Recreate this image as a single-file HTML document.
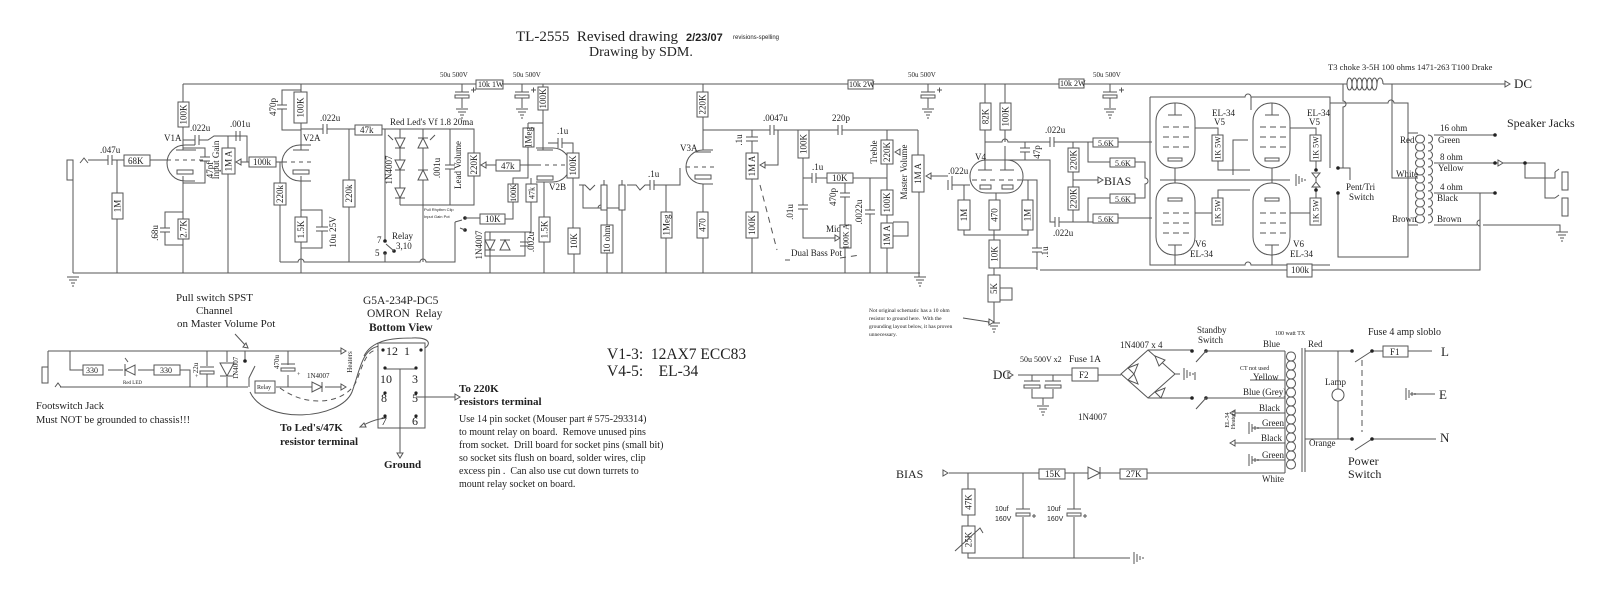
<!DOCTYPE html>
<html><head><meta charset="utf-8"><style>
html,body{margin:0;padding:0;background:#fff;}
svg{display:block;}
.w{fill:none;stroke:#555;stroke-width:1;}
.r{fill:#fff;stroke:#555;stroke-width:1;}
.d{fill:none;stroke:#555;stroke-width:1;stroke-dasharray:6 5;}
text{font-family:"Liberation Serif",serif;fill:#222;white-space:pre;}
.t{font-size:9px;}
.s{font-size:6px;}
.sn{font-family:"Liberation Sans",sans-serif;font-size:5px;}
.dot{fill:#222;stroke:none;}
</style></head><body>
<svg width="1598" height="594" viewBox="0 0 1598 594" xmlns="http://www.w3.org/2000/svg">
<defs>
<g id="g"><path class="w" d="M-6 0h12M-4 3h8M-2 6h4M-1 9h2"/></g>
<g id="ec"><path class="w" d="M-7 0h14"/><rect class="r" x="-7" y="3" width="14" height="3"/><path class="w" d="M9 -2h5M11.5 -4.5v5"/></g>
<g id="ch"><path class="w" d="M0 -5v10M4 -5v10"/></g>
<g id="cv"><path class="w" d="M-5 0h10M-5 4h10"/></g>
<g id="ar"><path d="M0 0l-5 -3v6z" fill="#fff" stroke="#555"/></g>
</defs>

<!-- TITLE -->
<text x="516" y="41" style="font-size:15px" xml:space="preserve">TL-2555  Revised drawing</text>
<text x="686" y="41" style="font-family:'Liberation Sans',sans-serif;font-size:11px;font-weight:bold">2/23/07</text>
<text x="733" y="39" class="sn" style="font-size:6px">revisions-spelling</text>
<text x="589" y="56" style="font-size:14px">Drawing by SDM.</text>

<!-- RAILS -->
<path class="w" d="M183 84H1347M1383 84H1505"/>
<use href="#ar" transform="translate(1510,84)"/>
<text x="1514" y="88" style="font-size:13px">DC</text>
<path class="w" d="M73 273H920"/>
<use href="#g" transform="translate(73,277)"/>
<use href="#g" transform="translate(920,277)"/>
<path class="w" d="M919 192V277"/>

<!-- B+ caps -->
<text x="440" y="77" class="s" style="font-size:7px">50u 500V</text>
<path class="w" d="M462 84V92M462 98V108"/><use href="#ec" transform="translate(462,92)"/><use href="#g" transform="translate(462,109)"/>
<rect class="r" x="476" y="80" width="27" height="9"/><text x="478" y="87" class="t" style="font-size:8px">10k 1W</text>
<text x="513" y="77" class="s" style="font-size:7px">50u 500V</text>
<path class="w" d="M522 84V92M522 98V108"/><use href="#ec" transform="translate(522,92)"/><use href="#g" transform="translate(522,109)"/>
<rect class="r" x="848" y="80" width="25" height="9"/><text x="849" y="87" class="t" style="font-size:8px">10k 2W</text>
<text x="908" y="77" class="s" style="font-size:7px">50u 500V</text>
<path class="w" d="M928 84V92M928 98V108"/><use href="#ec" transform="translate(928,92)"/><use href="#g" transform="translate(928,109)"/>
<rect class="r" x="1059" y="79" width="25" height="9"/><text x="1060" y="86" class="t" style="font-size:8px">10k 2W</text>
<text x="1093" y="77" class="s" style="font-size:7px">50u 500V</text>
<path class="w" d="M1110 84V92M1110 98V108"/><use href="#ec" transform="translate(1110,92)"/><use href="#g" transform="translate(1110,109)"/>

<!-- ===== V1A ===== -->
<rect class="r" x="67" y="160" width="6" height="20"/>
<path class="w" d="M73 180V273M80 163L84 158L88 163M88 160H108M112 160H124M117 160V193M117 219V273M150 160H168"/>
<use href="#ch" transform="translate(108,160)"/>
<text x="100" y="153" class="t">.047u</text>
<rect class="r" x="124" y="155" width="26" height="11"/><text x="128" y="164" class="t">68K</text>
<rect class="r" x="112" y="193" width="11" height="26"/><text transform="translate(117.5,206) rotate(-90)" text-anchor="middle" dy="3" class="t">1M</text>
<path class="w" d="M195 145H185A18 18 0 0 0 185 181H195M183 84V102M183 127V150M176 150H196M167 160H171M175 160H179M183 160H187M191 160H195M199 160H203"/>
<rect class="r" x="177" y="170" width="16" height="4"/>
<text x="164" y="141" class="t">V1A</text>
<rect class="r" x="178" y="102" width="11" height="25"/><text transform="translate(183.5,114.5) rotate(-90)" text-anchor="middle" dy="3" class="t">100K</text>
<path class="w" d="M183 140H195M199 140H208L214 136H247V162M238 162H249M228 136V148M228 174V273M183 148H205V157M205 161V183H183"/>
<use href="#ch" transform="translate(195,140)"/>
<text x="190" y="131" class="t">.022u</text>
<use href="#ch" transform="translate(236,136)"/>
<text x="230" y="127" class="t">.001u</text>
<path class="w" d="M200 157h10M200 161h10"/>
<text transform="translate(213,170) rotate(-90)" text-anchor="middle" class="t">47pf</text>
<rect class="r" x="222" y="148" width="13" height="26"/><text transform="translate(228.5,161) rotate(-90)" text-anchor="middle" dy="3" class="t">1M A</text>
<text transform="translate(219,160) rotate(-90)" text-anchor="middle" class="t">Input Gain</text>
<path d="M236 162l5 -3v6z" fill="#fff" stroke="#555"/>
<path class="w" d="M183 176V219M183 239V273M183 212H165V228M165 232V245H183"/>
<path class="w" d="M160 228h10M160 232h10"/>
<text transform="translate(158,233) rotate(-90)" text-anchor="middle" class="t">.68u</text>
<rect class="r" x="178" y="219" width="11" height="20"/><text transform="translate(183.5,229) rotate(-90)" text-anchor="middle" dy="3" class="t">2.7K</text>

<!-- ===== V2A ===== -->
<rect class="r" x="249" y="157" width="27" height="10"/><text x="253" y="165" class="t">100k</text>
<path class="w" d="M276 162H284M280 162V183M280 205V262"/>
<rect class="r" x="274" y="183" width="12" height="22"/><text transform="translate(280,194) rotate(-90)" text-anchor="middle" dy="3" class="t">220k</text>
<path class="w" d="M311 145H300A18 18 0 0 0 300 181H311M301 84V92M301 123V150M293 150H309M283 162H287M291 162H295M299 162H303M307 162H311"/>
<rect class="r" x="293" y="170" width="16" height="4"/>
<text x="303" y="141" class="t">V2A</text>
<rect class="r" x="294" y="92" width="13" height="31"/><text transform="translate(300.5,107.5) rotate(-90)" text-anchor="middle" dy="3" class="t">100K</text>
<path class="w" d="M301 90H282V105M282 109V130H301M277 105h10M277 109h10"/>
<text transform="translate(276,107) rotate(-90)" text-anchor="middle" class="t">470p</text>
<path class="w" d="M301 129H323M327 129H355M349 129V180M349 207V262"/>
<use href="#ch" transform="translate(323,129)"/>
<text x="320" y="121" class="t">.022u</text>
<rect class="r" x="343" y="180" width="12" height="27"/><text transform="translate(349,193.5) rotate(-90)" text-anchor="middle" dy="3" class="t">220k</text>
<path class="w" d="M301 176V217M301 242V273M301 210H322V227M322 231V248H301M316 227h12M316 231h12"/>
<rect class="r" x="295" y="217" width="12" height="25"/><text transform="translate(301,229.5) rotate(-90)" text-anchor="middle" dy="3" class="t">1.5K</text>
<text transform="translate(336,232) rotate(-90)" text-anchor="middle" class="t">10u 25V</text>
<rect class="r" x="355" y="125" width="27" height="10"/><text x="360" y="133" class="t">47k</text>

<!-- LED network -->
<path class="w" d="M382 129H474V153M474 176V205H400M385 129V241M400 129V138M400 148V160M400 170V188M400 198V205M423 129V138M423 148V170M423 180V262M450 129V165M450 169V205"/>
<path d="M395 138h10l-5 10z M395 160h10l-5 10z M395 188h10l-5 10z" fill="#fff" stroke="#555"/>
<path class="w" d="M395 148h10M395 170h10M395 198h10M418 138h10M418 170h10"/>
<path d="M418 148h10l-5 -10z M418 180h10l-5 -10z" fill="#fff" stroke="#555"/>
<path class="w" d="M393 140l-5 -5M430 140l5 -5M445 165h10M445 169h10"/>
<text x="390" y="125" class="t">Red Led's Vf 1.8 20ma</text>
<text transform="translate(392,170) rotate(-90)" text-anchor="middle" class="t">1N4007</text>
<text transform="translate(440,168) rotate(-90)" text-anchor="middle" class="t">.001u</text>
<text transform="translate(461,165) rotate(-90)" text-anchor="middle" class="t">Lead Volume</text>
<rect class="r" x="468" y="153" width="12" height="23"/><text transform="translate(474,164.5) rotate(-90)" text-anchor="middle" dy="3" class="t">220K</text>
<text x="424" y="211" class="sn" style="font-size:4px">Pull Rhythm Clip</text>
<text x="424" y="218" class="sn" style="font-size:4px">Input Gain Pot</text>
<circle class="dot" cx="385" cy="241" r="1.8"/><circle class="dot" cx="385" cy="253" r="1.8"/><circle class="dot" cx="394" cy="251" r="1.8"/>
<path class="w" d="M394 251L386 244M280 262H298A3 3 0 0 1 304 262H420A3 3 0 0 1 426 262H455V222M385 253V262"/>
<text x="392" y="239" style="font-size:9px">Relay</text>
<text x="377" y="243" class="t">7</text><text x="375" y="256" class="t">5</text><text x="396" y="249" class="t">3,10</text>
<circle class="dot" cx="465" cy="218" r="1.8"/><circle class="dot" cx="465" cy="230" r="1.8"/>
<path class="w" d="M455 222L462 220M465 218H480M465 230L460 228"/>

<!-- ===== V2B ===== -->
<path class="w" d="M543 84V87M543 110V150M528 123H543M528 123V128M528 147V178H513V184M513 202V219H505M531 178V184M531 202V232"/>
<rect class="r" x="538" y="87" width="10" height="23"/><text transform="translate(543,98.5) rotate(-90)" text-anchor="middle" dy="3" class="t">100K</text>
<rect class="r" x="523" y="128" width="11" height="19"/><text transform="translate(528.5,137.5) rotate(-90)" text-anchor="middle" dy="3" class="t">1Meg</text>
<rect class="r" x="508" y="184" width="10" height="18"/><text transform="translate(513,193) rotate(-90)" text-anchor="middle" dy="3" class="t" style="font-size:8px">100K</text>
<rect class="r" x="526" y="184" width="11" height="18"/><text transform="translate(531.5,193) rotate(-90)" text-anchor="middle" dy="3" class="t" style="font-size:8px">47k</text>
<path class="w" d="M480 165H496M520 165H537"/>
<path d="M481 165l5 -3v6z" fill="#fff" stroke="#555"/>
<rect class="r" x="496" y="160" width="24" height="11"/><text x="501" y="169" class="t">47k</text>
<path class="w" d="M536 148H553A17 17 0 0 1 553 182H536M537 150H553M537 165H541M545 165H549M553 165H557M561 165H565"/>
<rect class="r" x="537" y="176" width="16" height="4"/>
<text x="549" y="190" class="t">V2B</text>
<path class="w" d="M548 143H558M562 143H573V153M573 178V228M574 254V273M544 182V217M544 242V273"/>
<use href="#ch" transform="translate(558,143)"/>
<text x="557" y="134" class="t">.1u</text>
<rect class="r" x="567" y="153" width="12" height="25"/><text transform="translate(573,165.5) rotate(-90)" text-anchor="middle" dy="3" class="t">100K</text>
<rect class="r" x="568" y="228" width="12" height="26"/><text transform="translate(574,241) rotate(-90)" text-anchor="middle" dy="3" class="t">10K</text>
<rect class="r" x="539" y="217" width="11" height="25"/><text transform="translate(544.5,229.5) rotate(-90)" text-anchor="middle" dy="3" class="t">1.5K</text>
<rect class="r" x="480" y="214" width="25" height="10"/><text x="485" y="222" class="t">10K</text>
<path class="w" d="M485 232H531M485 232V256H525V232M490 232V273"/>
<path d="M485 240h10l-5 10z" fill="#fff" stroke="#555"/><path class="w" d="M485 250h10M500 240h10"/>
<path d="M500 250h10l-5 -10z" fill="#fff" stroke="#555"/>
<path class="w" d="M520 242h10M520 246h10"/>
<text transform="translate(482,245) rotate(-90)" text-anchor="middle" class="t">1N4007</text>
<text transform="translate(534,242) rotate(-90)" text-anchor="middle" class="t">.002u</text>

<!-- reverb-ish -->
<path class="w" d="M579 185H585L590 190L595 185M583 185V208H604V210M604 185V180M622 185V180M598 208A3 3 0 0 1 604 208H622V210M607 225V210M607 253V273M622 210V273M627 185H636L640 190L645 185H650M654 185H680V168M666 185V212M666 238V273"/>
<rect class="r" x="601" y="185" width="6" height="25"/><rect class="r" x="619" y="185" width="6" height="25"/>
<rect class="r" x="601" y="225" width="12" height="28"/><text transform="translate(607,239) rotate(-90)" text-anchor="middle" dy="3" class="t">10 ohm</text>
<use href="#ch" transform="translate(650,185)"/>
<text x="648" y="177" class="t">.1u</text>
<rect class="r" x="661" y="212" width="11" height="26"/><text transform="translate(666.5,225) rotate(-90)" text-anchor="middle" dy="3" class="t">1Meg</text>

<!-- ===== V3A ===== -->
<path class="w" d="M713 150H703A17 17 0 0 0 703 184H713M703 84V92M703 117V150M695 152H711M686 167H690M694 167H698M702 167H706M710 167H714M703 184V212M703 238V273"/>
<rect class="r" x="695" y="175" width="16" height="4"/>
<text x="680" y="151" class="t">V3A</text>
<rect class="r" x="697" y="92" width="11" height="25"/><text transform="translate(702.5,104.5) rotate(-90)" text-anchor="middle" dy="3" class="t">220K</text>
<rect class="r" x="697" y="212" width="11" height="26"/><text transform="translate(702.5,225) rotate(-90)" text-anchor="middle" dy="3" class="t">470</text>

<!-- tone stack -->
<path class="w" d="M703 130H770M774 130H838M842 130H887V140M752 130V137M752 141V153M752 179V212M752 238V273M774 130H778V165H760M803 130V130M803 158V178H812M816 178H827M853 178H887M803 178V205M803 209V238H840M845 178V193M845 197V225M845 248V273M870 178V210M870 214V273M887 164V190M887 215V223M887 248V273"/>
<path class="w" d="M746 137h12M746 141h12M798 205h10M798 209h10M840 193h10M840 197h10M865 210h10M865 214h10"/>
<use href="#ch" transform="translate(770,130)"/><use href="#ch" transform="translate(838,130)"/><use href="#ch" transform="translate(812,178)"/>
<path d="M760 165l5 -3v6z M840 238l-5 -3v6z M895 152l5 -3v6z M926 176l5 -3v6z" fill="#fff" stroke="#555"/>
<text transform="translate(742,140) rotate(-90)" text-anchor="middle" class="t">.1u</text>
<text x="763" y="121" class="t">.0047u</text>
<text x="832" y="121" class="t">220p</text>
<text x="812" y="170" class="t">.1u</text>
<text transform="translate(793,212) rotate(-90)" text-anchor="middle" class="t">.01u</text>
<text transform="translate(836,197) rotate(-90)" text-anchor="middle" class="t">470p</text>
<text x="826" y="232" class="t">Mid</text>
<text transform="translate(862,212) rotate(-90)" text-anchor="middle" class="t">.0022u</text>
<text transform="translate(877,152) rotate(-90)" text-anchor="middle" class="t">Treble</text>
<text transform="translate(907,172) rotate(-90)" text-anchor="middle" class="t">Master Volume</text>
<rect class="r" x="746" y="153" width="12" height="26"/><text transform="translate(752,166) rotate(-90)" text-anchor="middle" dy="3" class="t">1M A</text>
<rect class="r" x="746" y="212" width="12" height="26"/><text transform="translate(752,225) rotate(-90)" text-anchor="middle" dy="3" class="t">100K</text>
<rect class="r" x="798" y="130" width="11" height="28"/><text transform="translate(803.5,144) rotate(-90)" text-anchor="middle" dy="3" class="t">100K</text>
<rect class="r" x="827" y="173" width="26" height="10"/><text x="832" y="181" class="t">10K</text>
<rect class="r" x="840" y="225" width="11" height="23"/><text transform="translate(845.5,236.5) rotate(-90)" text-anchor="middle" dy="3" class="t" style="font-size:8px">100K A</text>
<rect class="r" x="881" y="140" width="12" height="24"/><text transform="translate(887,152) rotate(-90)" text-anchor="middle" dy="3" class="t">220K</text>
<rect class="r" x="881" y="190" width="12" height="25"/><text transform="translate(887,202.5) rotate(-90)" text-anchor="middle" dy="3" class="t">100K</text>
<rect class="r" x="881" y="223" width="12" height="25"/><text transform="translate(887,235.5) rotate(-90)" text-anchor="middle" dy="3" class="t">1M A</text>
<path class="w" d="M893 236H908V222H893M918 130V155M887 130H918"/>
<rect class="r" x="912" y="155" width="12" height="37"/><text transform="translate(918,173.5) rotate(-90)" text-anchor="middle" dy="3" class="t">1M A</text>
<path class="d" d="M760 185L777 250M785 260H790M840 258L860 255"/>
<text x="791" y="256" class="t">Dual Bass Pot</text>

<!-- ===== V4 ===== -->
<path class="w" d="M931 176H948M952 176V185H970"/>
<use href="#ch" transform="translate(948,185)"/>
<text x="948" y="174" class="t">.022u</text>
<rect class="r" x="970" y="160" width="53" height="33" rx="16"/>
<path class="w" d="M985 84V103M985 130V170M1005 84V103M1005 130V142M1005 146V170M978 170h14M1000 170h14M972 180h5M981 180h5M990 180h5M999 180h5M1008 180h5M1017 180h5"/>
<rect class="r" x="980" y="185" width="11" height="4"/><rect class="r" x="1002" y="185" width="11" height="4"/>
<text x="975" y="160" class="t">V4</text>
<rect class="r" x="980" y="103" width="11" height="27"/><text transform="translate(985.5,116.5) rotate(-90)" text-anchor="middle" dy="3" class="t">82K</text>
<rect class="r" x="1000" y="103" width="11" height="27"/><text transform="translate(1005.5,116.5) rotate(-90)" text-anchor="middle" dy="3" class="t">100K</text>
<path class="w" d="M985 142H1002A3 3 0 0 1 1008 142H1050M1054 142H1093M1025 142V148M1025 152V160M1007 160H1050V222H1055M1059 222H1093M1020 148h10M1020 152h10"/>
<use href="#ch" transform="translate(1050,142)"/><use href="#ch" transform="translate(1055,222)"/>
<text x="1045" y="133" class="t">.022u</text>
<text transform="translate(1040,152) rotate(-90)" text-anchor="middle" class="t">47p</text>
<text x="1053" y="236" class="t">.022u</text>
<path class="w" d="M964 185V200M964 230V235H1028V230M1028 200V180M1023 180H1037V248M1037 252V270M996 193V200M994 230V240M994 268V275M994 302V322M994 268H1037M1032 248h10M1032 252h10M1000 288H1012V300H1000"/>
<text transform="translate(1048,252) rotate(-90)" text-anchor="middle" class="t">.1u</text>
<rect class="r" x="958" y="200" width="12" height="30"/><text transform="translate(964,215) rotate(-90)" text-anchor="middle" dy="3" class="t">1M</text>
<rect class="r" x="989" y="200" width="11" height="30"/><text transform="translate(994.5,215) rotate(-90)" text-anchor="middle" dy="3" class="t">470</text>
<rect class="r" x="1022" y="200" width="11" height="30"/><text transform="translate(1027.5,215) rotate(-90)" text-anchor="middle" dy="3" class="t">1M</text>
<rect class="r" x="989" y="240" width="11" height="28"/><text transform="translate(994.5,254) rotate(-90)" text-anchor="middle" dy="3" class="t">10K</text>
<rect class="r" x="988" y="275" width="12" height="27"/><text transform="translate(994,288.5) rotate(-90)" text-anchor="middle" dy="3" class="t">5K</text>
<use href="#g" transform="translate(994,323)"/>
<path d="M994 322l-5 -3v6z" fill="#fff" stroke="#555"/>
<path class="w" d="M963 318L989 322"/>
<text x="869" y="312" class="sn" style="font-family:'Liberation Serif',serif;font-size:5.5px">Not original schematic has a 10 ohm</text>
<text x="869" y="320" class="sn" style="font-family:'Liberation Serif',serif;font-size:5.5px">resistor to ground here.  With the</text>
<text x="869" y="328" class="sn" style="font-family:'Liberation Serif',serif;font-size:5.5px">grounding layout below, it has proven</text>
<text x="869" y="336" class="sn" style="font-family:'Liberation Serif',serif;font-size:5.5px">unnecessary.</text>

<!-- Phase inverter outputs -->
<path class="w" d="M1073 142V148M1073 172V187M1073 210V222M1073 180H1098M1088 142V162H1110M1088 222V198H1110M1118 142H1152M1135 162H1145V178A3 3 0 0 1 1145 184V198H1135M1118 218H1152"/>
<path d="M1103 180l-5 -3v6z" fill="#fff" stroke="#555"/>
<text x="1104" y="185" style="font-size:12px">BIAS</text>
<rect class="r" x="1068" y="148" width="11" height="24"/><text transform="translate(1073.5,160) rotate(-90)" text-anchor="middle" dy="3" class="t">220K</text>
<rect class="r" x="1068" y="187" width="11" height="23"/><text transform="translate(1073.5,198.5) rotate(-90)" text-anchor="middle" dy="3" class="t">220K</text>
<rect class="r" x="1093" y="138" width="25" height="9"/><text x="1098" y="146" class="t" style="font-size:8px">5.6K</text>
<rect class="r" x="1110" y="158" width="25" height="9"/><text x="1115" y="166" class="t" style="font-size:8px">5.6K</text>
<rect class="r" x="1110" y="194" width="25" height="9"/><text x="1115" y="202" class="t" style="font-size:8px">5.6K</text>
<rect class="r" x="1093" y="214" width="25" height="9"/><text x="1098" y="222" class="t" style="font-size:8px">5.6K</text>

<!-- Power tubes -->
<path class="w" d="M1150 97H1245A3 3 0 0 1 1251 97H1330V168M1150 97V265H1245A3 3 0 0 1 1251 265H1330M1160 180H1290M1175 168V180M1272 168V180M1175 180V183M1272 180V183M1195 128H1218V135M1218 161V170H1250M1290 128H1316V135M1316 161V170M1316 175V190M1195 213H1218V225M1218 198V190H1250M1290 213H1316V225M1316 198V190M1251 97V110M1248 140H1233V175"/>
<rect class="r" x="1156" y="103" width="39" height="65" rx="18"/>
<rect class="r" x="1253" y="103" width="37" height="65" rx="18"/>
<rect class="r" x="1156" y="183" width="39" height="72" rx="18"/>
<rect class="r" x="1253" y="183" width="37" height="72" rx="18"/>
<path class="w" d="M1168 115h14M1163 127h6M1173 127h6M1183 127h6M1163 137h6M1173 137h6M1183 137h6M1163 147h6M1173 147h6M1183 147h6M1265 115h14M1260 127h6M1270 127h6M1280 127h6M1260 137h6M1270 137h6M1280 137h6M1260 147h6M1270 147h6M1280 147h6M1163 213h6M1173 213h6M1183 213h6M1163 223h6M1173 223h6M1183 223h6M1163 233h6M1173 233h6M1183 233h6M1168 245h14M1260 213h6M1270 213h6M1280 213h6M1260 223h6M1270 223h6M1280 223h6M1260 233h6M1270 233h6M1280 233h6M1265 245h14M1175 103V115M1272 103V115M1175 245V265M1272 245V265"/>
<rect class="r" x="1168" y="158" width="14" height="3"/><rect class="r" x="1265" y="158" width="14" height="3"/>
<rect class="r" x="1168" y="198" width="14" height="3"/><rect class="r" x="1265" y="198" width="14" height="3"/>
<use href="#g" transform="translate(1296,180) rotate(-90)"/>
<text x="1212" y="116" class="t">EL-34</text><text x="1214" y="125" class="t">V5</text>
<text x="1307" y="116" class="t">EL-34</text><text x="1309" y="125" class="t">V5</text>
<text x="1195" y="247" class="t">V6</text><text x="1190" y="257" class="t">EL-34</text>
<text x="1293" y="247" class="t">V6</text><text x="1290" y="257" class="t">EL-34</text>
<rect class="r" x="1212" y="135" width="11" height="26"/><text transform="translate(1217.5,148) rotate(-90)" text-anchor="middle" dy="3" class="t" style="font-size:8px">1K 5W</text>
<rect class="r" x="1212" y="198" width="11" height="27"/><text transform="translate(1217.5,211.5) rotate(-90)" text-anchor="middle" dy="3" class="t" style="font-size:8px">1K 5W</text>
<rect class="r" x="1310" y="135" width="11" height="26"/><text transform="translate(1315.5,148) rotate(-90)" text-anchor="middle" dy="3" class="t" style="font-size:8px">1K 5W</text>
<rect class="r" x="1310" y="198" width="11" height="27"/><text transform="translate(1315.5,211.5) rotate(-90)" text-anchor="middle" dy="3" class="t" style="font-size:8px">1K 5W</text>
<circle class="dot" cx="1316" cy="170" r="1.8"/><circle class="dot" cx="1316" cy="190" r="1.8"/>
<path d="M1312 173h8l-4 5z M1312 187h8l-4 -5z" fill="#fff" stroke="#555"/>
<path class="w" d="M1040 270H1287M1312 270H1480V193"/>
<rect class="r" x="1287" y="264" width="25" height="13"/><text x="1291" y="273" class="t">100k</text>

<!-- choke & OT -->
<text x="1328" y="70" class="t" style="font-size:8.5px">T3 choke 3-5H 100 ohms 1471-263 T100 Drake</text>
<path class="w" d="M1347 84c0 -8 5 -8 5 0c0 8 -5 8 -5 0M1352 84c0 -8 5 -8 5 0c0 8 -5 8 -5 0M1357 84c0 -8 5 -8 5 0c0 8 -5 8 -5 0M1362 84c0 -8 5 -8 5 0c0 8 -5 8 -5 0M1367 84c0 -8 5 -8 5 0c0 8 -5 8 -5 0M1372 84c0 -8 5 -8 5 0c0 8 -5 8 -5 0M1377 84c0 -8 6 -8 6 0"/>
<path class="w" d="M1343 84V101A3 3 0 0 1 1343 107V168M1330 103H1388A3 3 0 0 1 1394 103H1408V257H1338V193M1392 84V178H1418M1338 168H1350V180M1408 133H1418M1408 225H1418"/>
<circle class="dot" cx="1338" cy="168" r="1.8"/><circle class="dot" cx="1338" cy="193" r="1.8"/>
<text x="1346" y="190" class="t">Pent/Tri</text><text x="1349" y="200" class="t">Switch</text>
<path class="w" d="M1420 135c-6 0 -6 8 0 8c-6 0 -6 8 0 8c-6 0 -6 8 0 8c-6 0 -6 8 0 8c-6 0 -6 8 0 8c-6 0 -6 8 0 8c-6 0 -6 8 0 8c-6 0 -6 8 0 8c-6 0 -6 8 0 8c-6 0 -6 8 0 8c-6 0 -6 8 0 8M1420 135c6 0 6 8 0 8c6 0 6 8 0 8c6 0 6 8 0 8c6 0 6 8 0 8c6 0 6 8 0 8c6 0 6 8 0 8c6 0 6 8 0 8c6 0 6 8 0 8c6 0 6 8 0 8c6 0 6 8 0 8c6 0 6 8 0 8M1428 135c6 0 6 8 0 8c6 0 6 8 0 8c6 0 6 8 0 8c6 0 6 8 0 8c6 0 6 8 0 8c6 0 6 8 0 8c6 0 6 8 0 8c6 0 6 8 0 8c6 0 6 8 0 8c6 0 6 8 0 8c6 0 6 8 0 8"/>
<path class="w" d="M1434 135H1495M1434 163H1495M1495 163H1525V178H1555V172M1434 193H1495M1480 193V220A3 3 0 0 0 1480 226V270M1434 225H1477M1483 225H1560V232M1525 163H1545V198H1555"/>
<circle class="dot" cx="1495" cy="135" r="1.8"/><circle class="dot" cx="1495" cy="163" r="1.8"/><circle class="dot" cx="1525" cy="163" r="1.8"/><circle class="dot" cx="1495" cy="193" r="1.8"/>
<path d="M1503 163l-5 -3v6z" fill="#fff" stroke="#555"/>
<path class="w" d="M1555 172l4 -3M1555 198l4 -3"/>
<rect class="r" x="1562" y="172" width="6" height="18"/><rect class="r" x="1562" y="198" width="6" height="18"/>
<use href="#g" transform="translate(1562,232)"/>
<text x="1400" y="143" class="t">Red</text><text x="1396" y="177" class="t">White</text><text x="1392" y="222" class="t">Brown</text>
<text x="1440" y="131" class="t">16 ohm</text><text x="1438" y="143" class="t">Green</text>
<text x="1440" y="160" class="t">8 ohm</text><text x="1438" y="171" class="t">Yellow</text>
<text x="1440" y="190" class="t">4 ohm</text><text x="1437" y="201" class="t">Black</text>
<text x="1437" y="222" class="t">Brown</text>
<text x="1507" y="127" style="font-size:12px">Speaker Jacks</text>

<!-- ===== RELAY / FOOTSWITCH ===== -->
<text x="176" y="301" style="font-size:11px">Pull switch SPST</text>
<text x="196" y="314" style="font-size:11px">Channel</text>
<text x="177" y="327" style="font-size:11px">on Master Volume Pot</text>
<path class="w" d="M235 334L246 346"/><path d="M248 348l-5 -1l3 -4z" fill="#fff" stroke="#555"/>
<path class="w" d="M48 351H343M48 351V367M70 351V370H83M108 370H123M138 370H154M180 370H190V387M60 387H248M207 351V366M207 374V387M227 351V362M227 377V387M245 351V361M249 387V378L255 366M276 387H312M325 387H343M288 351V365M288 375V387"/>
<rect class="r" x="42" y="367" width="6" height="16"/>
<path class="w" d="M55 387l3 -4l3 4"/>
<rect class="r" x="83" y="365" width="20" height="10"/><text x="86" y="373" class="t" style="font-size:8px">330</text>
<rect class="r" x="154" y="365" width="26" height="10"/><text x="160" y="373" class="t" style="font-size:8px">330</text>
<path d="M125 370l10 -5v10z" fill="#fff" stroke="#555"/><path class="w" d="M125 364v12M128 362l-3 -4"/>
<text x="123" y="384" class="sn" style="font-family:'Liberation Serif',serif;font-size:5px">Red LED</text>
<path class="w" d="M200 367h14"/><rect class="r" x="200" y="371" width="14" height="3"/>
<text transform="translate(198,368) rotate(-90)" text-anchor="middle" class="t" style="font-size:7px">22u</text>
<text x="195" y="378" class="s">+</text>
<path d="M220 363h14l-7 13z" fill="#fff" stroke="#555"/><path class="w" d="M220 376h14"/>
<text transform="translate(238,368) rotate(-90)" text-anchor="middle" class="t" style="font-size:7px">1N4007</text>
<circle class="dot" cx="245" cy="361" r="1.8"/>
<rect class="r" x="255" y="381" width="20" height="12"/><text x="257" y="389" class="s">Relay</text>
<path class="w" d="M281 364h14"/><rect class="r" x="281" y="368" width="14" height="3"/>
<text transform="translate(279,362) rotate(-90)" text-anchor="middle" class="t" style="font-size:7px">470u</text>
<text x="297" y="376" class="s">+</text>
<path d="M312 382v10l10 -5z" fill="#fff" stroke="#555"/><path class="w" d="M322 382v10"/>
<text x="307" y="378" class="s" style="font-size:7px">1N4007</text>
<use href="#ar" transform="translate(346,351)"/><use href="#ar" transform="translate(346,387)"/>
<text transform="translate(352,362) rotate(-90)" text-anchor="middle" class="t" style="font-size:7px">Heaters</text>
<path class="w" d="M250 392C265 425 340 420 352 392C360 370 362 348 380 346"/>
<path class="d" d="M280 388C310 410 348 402 357 380C364 360 368 350 378 350" style="stroke-dasharray:5 4"/>
<path class="w" d="M421 350C432 346 432 337 412 338C392 338 372 340 364 356"/>
<text x="36" y="409" style="font-size:10.5px">Footswitch Jack</text>
<text x="36" y="423" style="font-size:10.5px">Must NOT be grounded to chassis!!!</text>
<text x="363" y="304" style="font-size:11.5px">G5A-234P-DC5</text>
<text x="367" y="317" style="font-size:11.5px" xml:space="preserve">OMRON  Relay</text>
<text x="369" y="331" style="font-size:11.5px;font-weight:bold">Bottom View</text>
<rect class="r" x="378" y="343" width="47" height="85"/>
<circle class="dot" cx="383" cy="350" r="1.6"/><circle class="dot" cx="421" cy="350" r="1.6"/>
<text x="386" y="355" style="font-size:12px">12</text><text x="404" y="355" style="font-size:12px">1</text>
<path class="w" d="M385 369H416M400 369V455M416 397H455M385 418Q372 420 362 426"/>
<circle class="dot" cx="385" cy="368" r="1.6"/><circle class="dot" cx="416" cy="368" r="1.6"/>
<text x="380" y="383" style="font-size:12px">10</text><text x="412" y="383" style="font-size:12px">3</text>
<circle class="dot" cx="385" cy="393" r="1.6"/><circle class="dot" cx="416" cy="393" r="1.6"/>
<text x="381" y="402" style="font-size:12px">8</text><text x="412" y="402" style="font-size:12px">5</text>
<circle class="dot" cx="385" cy="416" r="1.6"/><circle class="dot" cx="416" cy="416" r="1.6"/>
<text x="381" y="425" style="font-size:12px">7</text><text x="412" y="425" style="font-size:12px">6</text>
<path d="M460 397l-5 -3v6z M400 458l-3 -5h6z M360 427l4 -4l2 4z" fill="#fff" stroke="#555"/>
<text x="280" y="431" style="font-size:11px;font-weight:bold">To Led's/47K</text>
<text x="280" y="445" style="font-size:11px;font-weight:bold">resistor terminal</text>
<text x="384" y="468" style="font-size:11px;font-weight:bold">Ground</text>
<text x="459" y="392" style="font-size:11px;font-weight:bold">To 220K</text>
<text x="459" y="405" style="font-size:11px;font-weight:bold">resistors terminal</text>
<text x="459" y="422" style="font-size:10px">Use 14 pin socket (Mouser part # 575-293314)</text>
<text x="459" y="435" style="font-size:10px">to mount relay on board.  Remove unused pins</text>
<text x="459" y="448" style="font-size:10px">from socket.  Drill board for socket pins (small bit)</text>
<text x="459" y="461" style="font-size:10px">so socket sits flush on board, solder wires, clip</text>
<text x="459" y="474" style="font-size:10px">excess pin .  Can also use cut down turrets to</text>
<text x="459" y="487" style="font-size:10px">mount relay socket on board.</text>
<text x="607" y="359" style="font-size:15.5px" xml:space="preserve">V1-3:  12AX7 ECC83</text>
<text x="607" y="376" style="font-size:15.5px" xml:space="preserve">V4-5:    EL-34</text>

<!-- ===== POWER SUPPLY ===== -->
<text x="993" y="379" style="font-size:13px">DC</text>
<use href="#ar" transform="translate(1013,375)"/>
<path class="w" d="M1018 375H1072M1032 375V381M1053 375V381M1032 389V398H1053V389M1043 398V405M1098 375H1121"/>
<path class="w" d="M1024 381h16M1045 381h16"/><rect class="r" x="1024" y="385" width="16" height="3"/><rect class="r" x="1045" y="385" width="16" height="3"/>
<use href="#g" transform="translate(1043,406)"/>
<text x="1020" y="362" class="t" style="font-size:8px">50u 500V x2</text>
<text x="1069" y="362" style="font-size:9.5px">Fuse 1A</text>
<rect class="r" x="1072" y="368" width="26" height="13"/><text x="1079" y="378" class="t">F2</text>
<path class="w" d="M1121 374L1148 350L1175 374L1148 398Z M1148 350H1192M1148 398H1192M1175 374H1180"/>
<path d="M1128 368l10 -4l-4 10z M1155 356l10 4l-6 6z M1128 380l6 -6l4 10z M1155 392l6 6l4 -10z" fill="#fff" stroke="#555"/>
<use href="#g" transform="translate(1184,374) rotate(-90)"/>
<path class="w" d="M1195 372V380"/>
<text x="1120" y="348" class="t">1N4007 x 4</text>
<text x="1197" y="333" class="t">Standby</text><text x="1198" y="343" class="t">Switch</text>
<text x="1078" y="420" class="t">1N4007</text>
<circle class="dot" cx="1192" cy="351" r="1.8"/><circle class="dot" cx="1206" cy="351" r="1.8"/>
<circle class="dot" cx="1192" cy="398" r="1.8"/><circle class="dot" cx="1206" cy="398" r="1.8"/>
<path class="w" d="M1206 351L1196 362M1206 398L1196 409M1206 351H1285M1206 398H1285M1250 380H1285M1230 413H1285M1252 428H1285M1230 443H1285M1252 460H1285"/>
<path d="M1230 413l5 -3v6z M1230 443l5 -3v6z" fill="#fff" stroke="#555"/>
<use href="#g" transform="translate(1249,428) rotate(-90)"/>
<use href="#g" transform="translate(1249,460) rotate(-90)"/>
<text x="1275" y="335" class="s">100 watt TX</text>
<text x="1263" y="347" class="t">Blue</text>
<text x="1240" y="370" class="s">CT not used</text>
<text x="1253" y="380" class="t">Yellow</text>
<text x="1243" y="395" class="t">Blue (Grey)</text>
<text x="1259" y="411" class="t">Black</text>
<text x="1262" y="426" class="t">Green</text>
<text x="1261" y="441" class="t">Black</text>
<text x="1262" y="458" class="t">Green</text>
<text x="1262" y="482" class="t">White</text>
<text transform="translate(1229,420) rotate(-90)" text-anchor="middle" class="s">EL-34</text>
<text transform="translate(1235,420) rotate(-90)" text-anchor="middle" class="s">Heaters</text>
<path class="w" d="M1291 352c-6 0 -6 9 0 9c-6 0 -6 9 0 9c-6 0 -6 9 0 9c-6 0 -6 9 0 9c-6 0 -6 9 0 9c-6 0 -6 9 0 9c-6 0 -6 9 0 9c-6 0 -6 9 0 9c-6 0 -6 9 0 9c-6 0 -6 9 0 9c-6 0 -6 9 0 9c-6 0 -6 9 0 9c-6 0 -6 9 0 9M1291 352c6 0 6 9 0 9c6 0 6 9 0 9c6 0 6 9 0 9c6 0 6 9 0 9c6 0 6 9 0 9c6 0 6 9 0 9c6 0 6 9 0 9c6 0 6 9 0 9c6 0 6 9 0 9c6 0 6 9 0 9c6 0 6 9 0 9c6 0 6 9 0 9c6 0 6 9 0 9M1302 348V472M1305 348V472M1285 351V473"/>
<path class="w" d="M1305 351H1352M1338 351V389M1338 401V439M1305 439H1352M1372 351H1383M1408 351H1432M1372 439H1436M1410 394H1435M1372 351L1355 362M1372 439L1355 450"/>
<circle class="w" cx="1338" cy="395" r="6"/>
<path class="d" d="M1362 360V432" style="stroke-dasharray:6 4"/>
<circle class="dot" cx="1352" cy="351" r="1.8"/><circle class="dot" cx="1372" cy="351" r="1.8"/>
<circle class="dot" cx="1352" cy="439" r="1.8"/><circle class="dot" cx="1372" cy="439" r="1.8"/>
<use href="#g" transform="translate(1406,394) rotate(-90)"/>
<text x="1308" y="347" class="t">Red</text>
<text x="1309" y="446" class="t">Orange</text>
<text x="1325" y="385" class="t">Lamp</text>
<text x="1368" y="335" style="font-size:10px">Fuse 4 amp sloblo</text>
<rect class="r" x="1383" y="346" width="25" height="11"/><text x="1390" y="355" class="t">F1</text>
<text x="1441" y="356" style="font-size:13px">L</text>
<text x="1439" y="399" style="font-size:13px">E</text>
<text x="1440" y="442" style="font-size:13px">N</text>
<text x="1348" y="465" style="font-size:12px">Power</text>
<text x="1348" y="478" style="font-size:12px">Switch</text>

<!-- BIAS supply -->
<text x="896" y="478" style="font-size:12px">BIAS</text>
<use href="#ar" transform="translate(948,473)"/>
<path class="w" d="M949 473H1039M1065 473H1088M1100 473H1120M1147 473H1285M968 473V489M968 515V526M968 553V558H1130M1023 473V509M1023 517V558M1074 473V509M1074 517V558"/>
<path class="w" d="M1016 509h14M1067 509h14"/><rect class="r" x="1016" y="513" width="14" height="3"/><rect class="r" x="1067" y="513" width="14" height="3"/>
<path class="w" d="M1032 516h4M1034 514v4M1083 516h4M1085 514v4"/>
<path d="M1088 467v12l12 -6z" fill="#fff" stroke="#555"/><path class="w" d="M1100 467v12"/>
<rect class="r" x="1039" y="469" width="26" height="10"/><text x="1045" y="477" class="t">15K</text>
<rect class="r" x="1120" y="469" width="27" height="10"/><text x="1126" y="477" class="t">27K</text>
<rect class="r" x="962" y="489" width="13" height="26"/><text transform="translate(968.5,502) rotate(-90)" text-anchor="middle" dy="3" class="t">47K</text>
<rect class="r" x="962" y="526" width="13" height="27"/><text transform="translate(968.5,539.5) rotate(-90)" text-anchor="middle" dy="3" class="t">25K</text>
<path class="w" d="M955 551L980 528L983 533"/>
<text x="995" y="511" style="font-family:'Liberation Sans',sans-serif;font-size:7px">10uf</text>
<text x="995" y="521" style="font-family:'Liberation Sans',sans-serif;font-size:7px">160V</text>
<text x="1047" y="511" style="font-family:'Liberation Sans',sans-serif;font-size:7px">10uf</text>
<text x="1047" y="521" style="font-family:'Liberation Sans',sans-serif;font-size:7px">160V</text>
<use href="#g" transform="translate(1134,558) rotate(-90)"/>
</svg>
</body></html>
